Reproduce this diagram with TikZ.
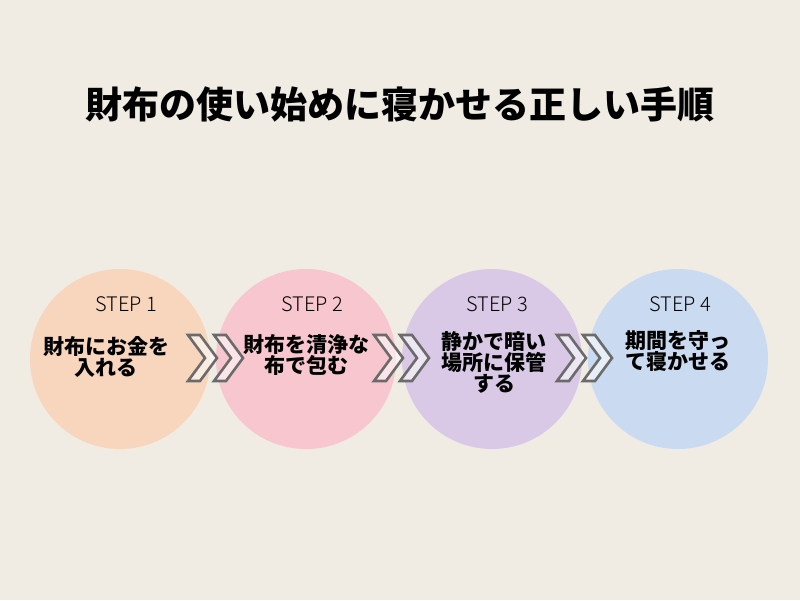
\documentclass[tikz,border=0pt]{standalone}
\usepackage{fontspec}
\newfontfamily\cjk{Noto Sans CJK JP Black}
\newfontfamily\stepf{Noto Sans CJK JP Light}
\definecolor{bg}{HTML}{F0EBE3}
\definecolor{c1}{HTML}{F8D6BD}
\definecolor{c2}{HTML}{F7C6CF}
\definecolor{c3}{HTML}{D9C9E6}
\definecolor{c4}{HTML}{C9DAF1}
\definecolor{chev}{HTML}{6B6B6B}
\begin{document}
\begin{tikzpicture}[x=1pt,y=-1pt,
  stepcircle/.style={circle,minimum size=180pt,inner sep=0pt},
  steplabel/.style={font=\stepf\fontsize{20}{20}\selectfont},
  body/.style={font=\cjk\fontsize{21}{21}\selectfont,align=center},
  chevshape/.style={draw=chev,line width=2.6pt,fill=white,fill opacity=0.55,line join=miter}]
\fill[bg] (0,0) rectangle (800,600);
\useasboundingbox (0,0) rectangle (800,600);
\node[font=\cjk\fontsize{37}{37}\selectfont] (title) at (400,104) {財布の使い始めに寝かせる正しい手順};
\foreach \i/\x/\c in {1/120/c1,2/306/c2,3/492/c3,4/678/c4}
  \node[stepcircle,fill=\c] (c\i) at (\x,359) {};
\foreach \i/\x in {1/126,2/312,3/497,4/680}
  \node[steplabel] (s\i) at (\x,304) {STEP \i};
\node[body] (t1) at (106,357) {財布にお金を\\入れる};
\node[body] (t2) at (306,355) {財布を清浄な\\布で包む};
\node[body] (t3) at (494,362) {静かで暗い\\場所に保管\\する};
\node[body] (t4) at (678,351) {期間を守っ\\て寝かせる};
\foreach \x in {188,214,374,400,557,583}
  \draw[chevshape] (\x,335) -- ++(12,0) -- ++(17,23) -- ++(-17,23) -- ++(-12,0) -- ++(17,-23) -- cycle;
\end{tikzpicture}
\end{document}
